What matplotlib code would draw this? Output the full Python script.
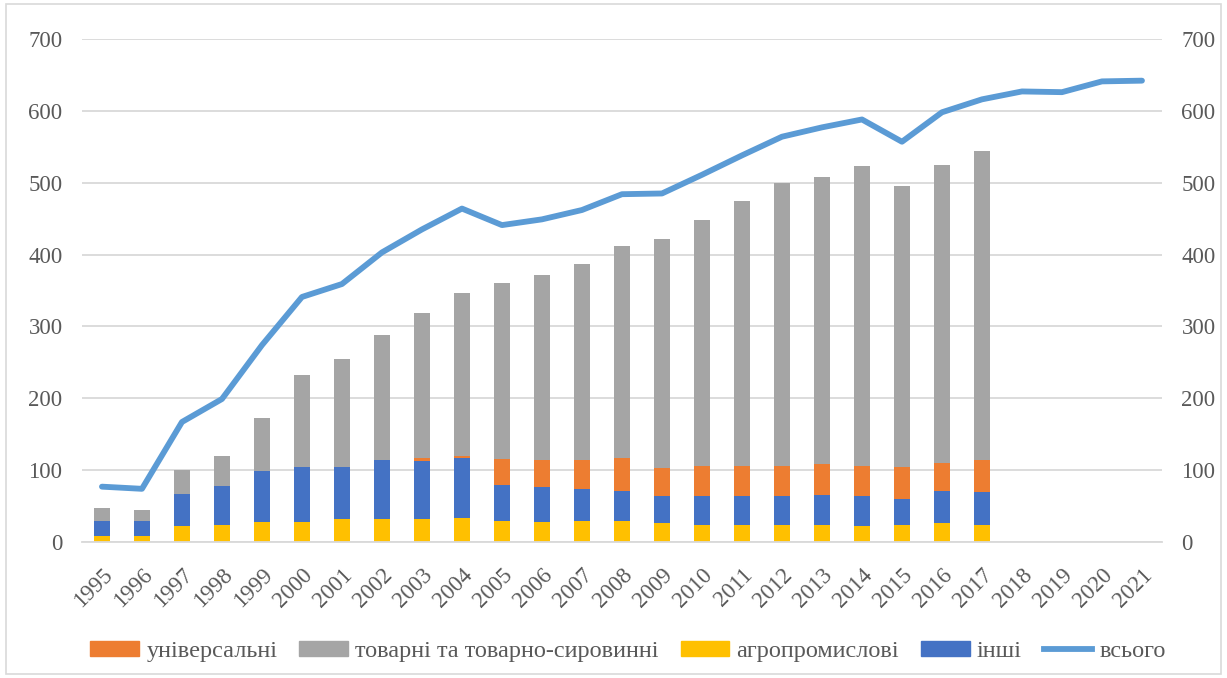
import numpy as np
import matplotlib.pyplot as plt
from matplotlib.patches import Rectangle
from matplotlib.lines import Line2D

years = [str(y) for y in range(1995, 2022)]
bar_years = years[:23]  # 1995-2017 only have breakdown

agro = [8, 8, 22, 24, 28, 28, 32, 32, 32, 34, 29, 28, 29, 29, 26, 24, 24, 24, 24, 22, 24, 26, 24]
other = [21, 21, 45, 54, 71, 77, 73, 82, 81, 83, 50, 48, 45, 42, 38, 40, 40, 40, 41, 42, 36, 45, 45]
universal = [0, 0, 0, 0, 0, 0, 0, 0, 4, 2, 36, 38, 40, 46, 39, 42, 42, 42, 43, 42, 45, 39, 45]
commodity = [18, 15, 33, 42, 73, 128, 149, 174, 202, 227, 245, 258, 273, 295, 318, 342, 368, 394, 400, 417, 391, 415, 430]
total = [77, 74, 167, 199, 274, 341, 359, 403, 435, 464, 441, 449, 462, 484, 485, 511, 538,
         564, 577, 588, 557, 598, 616, 627, 626, 641, 642]

c_univ = '#ED7D31'
c_comm = '#A5A5A5'
c_agro = '#FFC000'
c_other = '#4472C4'
c_total = '#5B9BD5'
txt = '#595959'

plt.rcParams['font.family'] = ['Liberation Serif', 'DejaVu Serif']

fig = plt.figure(figsize=(12.27, 6.78), dpi=100)
ax = fig.add_axes([0.0668, 0.2006, 0.8802, 0.7419])

x = np.arange(len(years))
xb = x[:len(bar_years)]
w = 0.38
b1 = np.array(agro)
b2 = b1 + np.array(other)
b3 = b2 + np.array(universal)
ax.bar(xb, agro, w, color=c_agro, zorder=2)
ax.bar(xb, other, w, bottom=b1, color=c_other, zorder=2)
ax.bar(xb, universal, w, bottom=b2, color=c_univ, zorder=2)
ax.bar(xb, commodity, w, bottom=b3, color=c_comm, zorder=2)
ax.plot(x, total, color=c_total, lw=4.2, zorder=3, solid_joinstyle='round', solid_capstyle='round')

ax.set_xlim(-0.5, len(years) - 0.5)
ax.set_ylim(0, 700)
ax.set_yticks(range(0, 701, 100))
ax.grid(axis='y', color='#D9D9D9', lw=1.3, zorder=0)
ax.set_axisbelow(True)
for s in ['top', 'right', 'left']:
    ax.spines[s].set_visible(False)
ax.spines['bottom'].set_color('#D9D9D9')
ax.spines['bottom'].set_linewidth(1.3)
ax.tick_params(length=0, colors=txt, labelsize=16.5)
ax.tick_params(axis='y', pad=14)
ax.set_xticks(x)
ax.set_xticklabels(years, rotation=45, ha='right', rotation_mode='anchor')
ax.tick_params(axis='x', pad=16)

ax2 = ax.twinx()
ax2.set_ylim(0, 700)
ax2.set_yticks(range(0, 701, 100))
for s in ax2.spines.values():
    s.set_visible(False)
ax2.tick_params(length=0, colors=txt, labelsize=16.5, pad=14)

handles = [Rectangle((0, 0), 1, 1, color=c_univ),
           Rectangle((0, 0), 1, 1, color=c_comm),
           Rectangle((0, 0), 1, 1, color=c_agro),
           Rectangle((0, 0), 1, 1, color=c_other),
           Line2D([], [], color=c_total, lw=4.2)]
labels = ['універсальні', 'товарні та товарно-сировинні', 'агропромислові', 'інші', 'всього']
leg = fig.legend(handles, labels, loc='center', bbox_to_anchor=(0.512, 0.039), ncol=5,
                 frameon=False, fontsize=17.5, handlelength=2.0, handleheight=0.55,
                 columnspacing=0.9, handletextpad=0.3)
for t in leg.get_texts():
    t.set_color(txt)

fig.patches.append(Rectangle((0.005, 0.006), 0.99, 0.988, transform=fig.transFigure,
                             fill=False, edgecolor='#D9D9D9', lw=1.2))

fig.savefig('out.png', dpi=100)
